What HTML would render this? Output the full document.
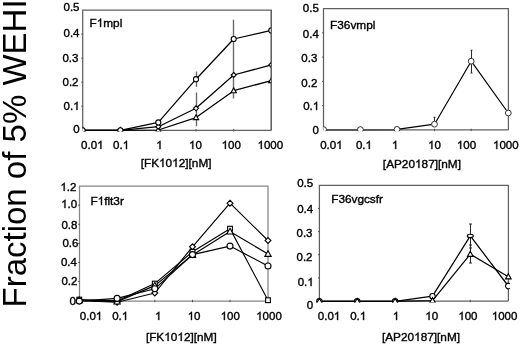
<!DOCTYPE html>
<html><head><meta charset="utf-8"><style>
html,body{margin:0;padding:0;background:#fff;}
svg{display:block;filter:grayscale(1);}
text{font-family:"Liberation Sans",sans-serif;font-kerning:none;font-variant-ligatures:none;fill:#000;stroke:#000;stroke-width:0.38px;}
.t{font-size:11.5px;}
.ti{font-size:11.8px;}
.n{font-size:11.8px;}
.big{font-size:33px;stroke:none;}
.fr{fill:none;stroke:#606060;stroke-width:1.25;}
.ax{fill:none;stroke:#606060;stroke-width:1.25;}
.tk{fill:none;stroke:#555;stroke-width:1;}
.ln{fill:none;stroke:#000;stroke-width:1.35;stroke-linejoin:round;}
.m{fill:#fff;stroke:#000;stroke-width:1.1;}
.ms .m{stroke:#333;stroke-width:1.0;}
.g1{fill:#000;stroke:#000;stroke-width:0.38px;vector-effect:non-scaling-stroke;}
.er{fill:none;stroke:#2a2a2a;stroke-width:1.05;}
</style></head><body>
<svg width="520" height="345" viewBox="0 0 520 345">
<defs><clipPath id="c0"><rect x="82.7" y="5.1" width="188.60000000000002" height="126.50000000000001"/></clipPath><clipPath id="c1"><rect x="323.5" y="3.5" width="188.89999999999998" height="127.7"/></clipPath><clipPath id="c2"><rect x="79.5" y="181.1" width="189.5" height="121.2"/></clipPath><clipPath id="c3"><rect x="313.4" y="180.3" width="205.0" height="122.29999999999998"/></clipPath></defs>
<text class="big" transform="translate(26.1 307.5) rotate(-90)">Fraction of 5% WEHI</text>
<path d="M82.7 130.3V10.1H271.3V130.3" class="fr"/>
<path d="M82.7 130.3H271.3" class="ax"/>
<path d="M81.3 34.1h1.9M81.3 58.2h1.9M81.3 82.2h1.9M81.3 106.2h1.9M120.4 129.10000000000002v2.4M158.3 129.10000000000002v2.4M196.0 129.10000000000002v2.4M233.7 129.10000000000002v2.4" class="tk"/>
<text x="63.51" y="11.00" class="t">0.5</text>
<text x="63.51" y="37.00" class="t">0.4</text>
<text x="62.41" y="62.00" class="t">0.3</text>
<text x="62.51" y="86.00" class="t">0.2</text>
<text x="63.61" y="110.00" class="t">0.</text><path d="M763 0H583V1147Q518 1085 412.5 1023T223 930V1104Q374 1175 487 1276T647 1472H763Z" transform="translate(73.20 110.00) scale(0.005615 -0.005615)" class="g1"/>
<text x="73.20" y="133.00" class="t">0</text>
<text x="81.11" y="149.00" class="t">0.0</text><path d="M763 0H583V1147Q518 1085 412.5 1023T223 930V1104Q374 1175 487 1276T647 1472H763Z" transform="translate(97.10 149.00) scale(0.005615 -0.005615)" class="g1"/>
<text x="113.11" y="149.00" class="t">0.</text><path d="M763 0H583V1147Q518 1085 412.5 1023T223 930V1104Q374 1175 487 1276T647 1472H763Z" transform="translate(122.70 149.00) scale(0.005615 -0.005615)" class="g1"/>
<path d="M763 0H583V1147Q518 1085 412.5 1023T223 930V1104Q374 1175 487 1276T647 1472H763Z" transform="translate(156.20 149.00) scale(0.005615 -0.005615)" class="g1"/>
<path d="M763 0H583V1147Q518 1085 412.5 1023T223 930V1104Q374 1175 487 1276T647 1472H763Z" transform="translate(189.00 149.00) scale(0.005615 -0.005615)" class="g1"/><text x="195.40" y="149.00" class="t">0</text>
<path d="M763 0H583V1147Q518 1085 412.5 1023T223 930V1104Q374 1175 487 1276T647 1472H763Z" transform="translate(221.61 149.00) scale(0.005615 -0.005615)" class="g1"/><text x="228.00" y="149.00" class="t">00</text>
<path d="M763 0H583V1147Q518 1085 412.5 1023T223 930V1104Q374 1175 487 1276T647 1472H763Z" transform="translate(257.51 149.00) scale(0.005615 -0.005615)" class="g1"/><text x="263.90" y="149.00" class="t">000</text>
<text x="140.68" y="167.00" class="ti">[FK</text><path d="M763 0H583V1147Q518 1085 412.5 1023T223 930V1104Q374 1175 487 1276T647 1472H763Z" transform="translate(159.04 167.00) scale(0.005762 -0.005762)" class="g1"/><text x="165.60" y="167.00" class="ti">0</text><path d="M763 0H583V1147Q518 1085 412.5 1023T223 930V1104Q374 1175 487 1276T647 1472H763Z" transform="translate(172.16 167.00) scale(0.005762 -0.005762)" class="g1"/><text x="178.73" y="167.00" class="ti">2][nM]</text>
<text x="89.50" y="27.00" class="n">F</text><path d="M763 0H583V1147Q518 1085 412.5 1023T223 930V1104Q374 1175 487 1276T647 1472H763Z" transform="translate(96.71 27.00) scale(0.005762 -0.005762)" class="g1"/><text x="103.27" y="27.00" class="n">mpl</text>
<g clip-path="url(#c0)"><path d="M196.5 71.4V87.0M196.5 92.6V124.0M196.5 109.0V126.3M233.5 19.7V58.3M233.5 58.3V83.0M233.5 83.0V98.5" class="er" style="stroke:#6a6a6a;stroke-width:1.4;"/><polyline points="82.60,130.30 120.40,130.30 158.30,130.00 196.00,117.60 233.70,90.70 271.30,80.60" class="ln" style="stroke-width:1.25"/><polyline points="82.60,130.30 120.40,130.30 158.30,126.70 196.00,108.30 233.70,75.00 271.30,64.90" class="ln" style="stroke-width:1.25"/><polyline points="82.60,130.30 120.40,130.30 158.30,122.40 196.00,79.20 233.70,39.00 271.30,30.40" class="ln" style="stroke-width:1.25"/><g><path d="M82.60 127.50L85.28 132.34L79.92 132.34Z" class="m"/><path d="M120.40 127.50L123.08 132.34L117.72 132.34Z" class="m"/><path d="M158.30 127.19L160.98 132.04L155.62 132.04Z" class="m"/><path d="M196.00 114.79L198.68 119.64L193.32 119.64Z" class="m"/><path d="M233.70 87.89L236.38 92.74L231.02 92.74Z" class="m"/><path d="M271.30 77.79L273.98 82.64L268.62 82.64Z" class="m"/><path d="M82.60 127.80L85.10 130.30L82.60 132.80L80.10 130.30Z" class="m"/><path d="M120.40 127.80L122.90 130.30L120.40 132.80L117.90 130.30Z" class="m"/><path d="M158.30 124.20L160.80 126.70L158.30 129.20L155.80 126.70Z" class="m"/><path d="M196.00 105.80L198.50 108.30L196.00 110.80L193.50 108.30Z" class="m"/><path d="M233.70 72.50L236.20 75.00L233.70 77.50L231.20 75.00Z" class="m"/><path d="M271.30 62.40L273.80 64.90L271.30 67.40L268.80 64.90Z" class="m"/><circle cx="82.60" cy="130.30" r="2.55" class="m"/><circle cx="120.40" cy="130.30" r="2.55" class="m"/><circle cx="158.30" cy="122.40" r="2.55" class="m"/><circle cx="196.00" cy="79.20" r="2.55" class="m"/><circle cx="233.70" cy="39.00" r="2.55" class="m"/><circle cx="271.30" cy="30.40" r="2.55" class="m"/></g></g>
<path d="M271.3 10.1V130.3" class="fr"/>
<path d="M323.5 129.9V8.5H508.4V129.9" class="fr"/>
<path d="M323.5 129.9H508.4" class="ax"/>
<path d="M322.1 32.8h1.9M322.1 57.1h1.9M322.1 81.4h1.9M322.1 105.6h1.9M360.4 128.70000000000002v2.4M397.0 128.70000000000002v2.4M434.5 128.70000000000002v2.4M471.2 128.70000000000002v2.4" class="tk"/>
<text x="302.81" y="12.00" class="t">0.5</text>
<text x="302.81" y="38.00" class="t">0.4</text>
<text x="301.31" y="62.00" class="t">0.3</text>
<text x="301.31" y="87.00" class="t">0.2</text>
<text x="303.21" y="110.00" class="t">0.</text><path d="M763 0H583V1147Q518 1085 412.5 1023T223 930V1104Q374 1175 487 1276T647 1472H763Z" transform="translate(312.80 110.00) scale(0.005615 -0.005615)" class="g1"/>
<text x="312.40" y="134.00" class="t">0</text>
<text x="320.21" y="149.00" class="t">0.0</text><path d="M763 0H583V1147Q518 1085 412.5 1023T223 930V1104Q374 1175 487 1276T647 1472H763Z" transform="translate(336.20 149.00) scale(0.005615 -0.005615)" class="g1"/>
<text x="355.91" y="149.00" class="t">0.</text><path d="M763 0H583V1147Q518 1085 412.5 1023T223 930V1104Q374 1175 487 1276T647 1472H763Z" transform="translate(365.50 149.00) scale(0.005615 -0.005615)" class="g1"/>
<path d="M763 0H583V1147Q518 1085 412.5 1023T223 930V1104Q374 1175 487 1276T647 1472H763Z" transform="translate(391.90 149.00) scale(0.005615 -0.005615)" class="g1"/>
<path d="M763 0H583V1147Q518 1085 412.5 1023T223 930V1104Q374 1175 487 1276T647 1472H763Z" transform="translate(428.10 149.00) scale(0.005615 -0.005615)" class="g1"/><text x="434.50" y="149.00" class="t">0</text>
<path d="M763 0H583V1147Q518 1085 412.5 1023T223 930V1104Q374 1175 487 1276T647 1472H763Z" transform="translate(456.91 149.00) scale(0.005615 -0.005615)" class="g1"/><text x="463.30" y="149.00" class="t">00</text>
<path d="M763 0H583V1147Q518 1085 412.5 1023T223 930V1104Q374 1175 487 1276T647 1472H763Z" transform="translate(493.01 149.00) scale(0.005615 -0.005615)" class="g1"/><text x="499.40" y="149.00" class="t">000</text>
<text x="382.87" y="168.00" class="ti">[AP20</text><path d="M763 0H583V1147Q518 1085 412.5 1023T223 930V1104Q374 1175 487 1276T647 1472H763Z" transform="translate(415.01 168.00) scale(0.005762 -0.005762)" class="g1"/><text x="421.58" y="168.00" class="ti">87][nM]</text>
<text x="330.10" y="29.00" class="n">F36vmpl</text>
<g clip-path="url(#c1)"><path d="M434.5 117.3V124.0M433.5 117.3h2M433.5 124.0h2M471.5 50.2V73.0M470.5 50.2h2M470.5 73.0h2" class="er"/><polyline points="323.60,129.60 360.40,129.60 397.00,129.40 434.50,124.20 471.20,61.20 508.30,113.00" class="ln" style="stroke-width:1.2"/><path d="M323.5 129.9H397.0" class="ax" style="stroke:#555;stroke-width:1.6"/><g class="ms"><circle cx="323.60" cy="129.60" r="2.9" class="m"/><circle cx="360.40" cy="129.60" r="2.9" class="m"/><circle cx="397.00" cy="129.40" r="2.9" class="m"/><circle cx="434.50" cy="124.20" r="2.9" class="m"/><circle cx="471.20" cy="61.20" r="2.9" class="m"/><circle cx="508.30" cy="113.00" r="2.9" class="m"/></g></g>
<path d="M79.5 301.0V186.1H268.0V301.0" class="fr" style="stroke:#858585"/>
<path d="M79.5 301.0H268.0" class="ax" style="stroke:#858585"/>
<path d="M78.1 205.2h1.9M78.1 224.3h1.9M78.1 243.4h1.9M78.1 262.5h1.9M78.1 281.6h1.9M117.1 299.8v2.4M154.8 299.8v2.4M192.5 299.8v2.4M230.0 299.8v2.4" class="tk"/>
<path d="M763 0H583V1147Q518 1085 412.5 1023T223 930V1104Q374 1175 487 1276T647 1472H763Z" transform="translate(60.41 191.00) scale(0.005615 -0.005615)" class="g1"/><text x="66.81" y="191.00" class="t">.2</text>
<path d="M763 0H583V1147Q518 1085 412.5 1023T223 930V1104Q374 1175 487 1276T647 1472H763Z" transform="translate(61.16 208.00) scale(0.005615 -0.005615)" class="g1"/><text x="67.56" y="208.00" class="t">.0</text>
<text x="61.41" y="229.00" class="t">0.8</text>
<text x="62.41" y="247.00" class="t">0.6</text>
<text x="60.91" y="266.00" class="t">0.4</text>
<text x="61.41" y="285.00" class="t">0.2</text>
<text x="69.60" y="305.00" class="t">0</text>
<text x="79.81" y="320.00" class="t">0.0</text><path d="M763 0H583V1147Q518 1085 412.5 1023T223 930V1104Q374 1175 487 1276T647 1472H763Z" transform="translate(95.80 320.00) scale(0.005615 -0.005615)" class="g1"/>
<text x="112.21" y="320.00" class="t">0.</text><path d="M763 0H583V1147Q518 1085 412.5 1023T223 930V1104Q374 1175 487 1276T647 1472H763Z" transform="translate(121.80 320.00) scale(0.005615 -0.005615)" class="g1"/>
<path d="M763 0H583V1147Q518 1085 412.5 1023T223 930V1104Q374 1175 487 1276T647 1472H763Z" transform="translate(155.00 320.00) scale(0.005615 -0.005615)" class="g1"/>
<path d="M763 0H583V1147Q518 1085 412.5 1023T223 930V1104Q374 1175 487 1276T647 1472H763Z" transform="translate(187.70 320.00) scale(0.005615 -0.005615)" class="g1"/><text x="194.10" y="320.00" class="t">0</text>
<path d="M763 0H583V1147Q518 1085 412.5 1023T223 930V1104Q374 1175 487 1276T647 1472H763Z" transform="translate(220.61 320.00) scale(0.005615 -0.005615)" class="g1"/><text x="227.00" y="320.00" class="t">00</text>
<path d="M763 0H583V1147Q518 1085 412.5 1023T223 930V1104Q374 1175 487 1276T647 1472H763Z" transform="translate(256.21 320.00) scale(0.005615 -0.005615)" class="g1"/><text x="262.60" y="320.00" class="t">000</text>
<text x="145.88" y="341.00" class="ti">[FK</text><path d="M763 0H583V1147Q518 1085 412.5 1023T223 930V1104Q374 1175 487 1276T647 1472H763Z" transform="translate(164.24 341.00) scale(0.005762 -0.005762)" class="g1"/><text x="170.80" y="341.00" class="ti">0</text><path d="M763 0H583V1147Q518 1085 412.5 1023T223 930V1104Q374 1175 487 1276T647 1472H763Z" transform="translate(177.36 341.00) scale(0.005762 -0.005762)" class="g1"/><text x="183.93" y="341.00" class="ti">2][nM]</text>
<text x="90.40" y="205.00" class="n">F</text><path d="M763 0H583V1147Q518 1085 412.5 1023T223 930V1104Q374 1175 487 1276T647 1472H763Z" transform="translate(97.61 205.00) scale(0.005762 -0.005762)" class="g1"/><text x="104.17" y="205.00" class="n">flt3r</text>
<g><polyline points="79.30,300.80 117.10,302.20 154.80,293.00 192.50,246.80 230.00,203.20 268.00,240.50" class="ln" style="stroke-width:1.15"/><polyline points="79.30,299.60 117.10,300.90 154.80,283.60 192.50,251.80 230.00,228.70 268.00,300.20" class="ln" style="stroke-width:1.15"/><polyline points="79.30,300.30 117.10,301.60 154.80,285.60 192.50,255.00 230.00,231.60 268.00,254.00" class="ln" style="stroke-width:1.15"/><polyline points="79.30,301.10 117.10,298.40 154.80,288.70 192.50,254.60 230.00,246.10 268.00,266.00" class="ln" style="stroke-width:1.15"/><g><path d="M79.30 297.86L82.24 300.80L79.30 303.74L76.36 300.80Z" class="m"/><path d="M117.10 299.26L120.04 302.20L117.10 305.14L114.16 302.20Z" class="m"/><path d="M154.80 290.06L157.74 293.00L154.80 295.94L151.86 293.00Z" class="m"/><path d="M192.50 243.86L195.44 246.80L192.50 249.74L189.56 246.80Z" class="m"/><path d="M230.00 200.26L232.94 203.20L230.00 206.14L227.06 203.20Z" class="m"/><path d="M268.00 237.56L270.94 240.50L268.00 243.44L265.06 240.50Z" class="m"/><rect x="76.90" y="297.20" width="4.80" height="4.80" class="m"/><rect x="114.70" y="298.50" width="4.80" height="4.80" class="m"/><rect x="152.40" y="281.20" width="4.80" height="4.80" class="m"/><rect x="190.10" y="249.40" width="4.80" height="4.80" class="m"/><rect x="227.60" y="226.30" width="4.80" height="4.80" class="m"/><rect x="265.60" y="297.80" width="4.80" height="4.80" class="m"/><path d="M79.30 297.00L82.45 302.70L76.15 302.70Z" class="m"/><path d="M117.10 298.30L120.25 304.00L113.95 304.00Z" class="m"/><path d="M154.80 282.30L157.95 288.00L151.65 288.00Z" class="m"/><path d="M192.50 251.70L195.65 257.40L189.35 257.40Z" class="m"/><path d="M230.00 228.30L233.15 234.00L226.85 234.00Z" class="m"/><path d="M268.00 250.70L271.15 256.40L264.85 256.40Z" class="m"/><circle cx="79.30" cy="301.10" r="3.0" class="m"/><circle cx="117.10" cy="298.40" r="3.0" class="m"/><circle cx="154.80" cy="288.70" r="3.0" class="m"/><circle cx="192.50" cy="254.60" r="3.0" class="m"/><circle cx="230.00" cy="246.10" r="3.0" class="m"/><circle cx="268.00" cy="266.00" r="3.0" class="m"/></g></g>
<path d="M319.4 301.0V185.3H508.4V301.0" class="fr"/>
<path d="M319.4 301.0H508.4" class="ax"/>
<path d="M318.0 208.4h1.9M318.0 231.6h1.9M318.0 254.7h1.9M318.0 277.9h1.9M357.2 299.8v2.4M395.1 299.8v2.4M432.5 299.8v2.4M470.3 299.8v2.4" class="tk"/>
<text x="297.21" y="187.00" class="t">0.5</text>
<text x="297.21" y="213.00" class="t">0.4</text>
<text x="296.51" y="237.00" class="t">0.3</text>
<text x="296.51" y="261.00" class="t">0.2</text>
<text x="297.71" y="286.00" class="t">0.</text><path d="M763 0H583V1147Q518 1085 412.5 1023T223 930V1104Q374 1175 487 1276T647 1472H763Z" transform="translate(307.30 286.00) scale(0.005615 -0.005615)" class="g1"/>
<text x="306.80" y="309.00" class="t">0</text>
<text x="317.81" y="320.00" class="t">0.0</text><path d="M763 0H583V1147Q518 1085 412.5 1023T223 930V1104Q374 1175 487 1276T647 1472H763Z" transform="translate(333.80 320.00) scale(0.005615 -0.005615)" class="g1"/>
<text x="350.21" y="320.00" class="t">0.</text><path d="M763 0H583V1147Q518 1085 412.5 1023T223 930V1104Q374 1175 487 1276T647 1472H763Z" transform="translate(359.80 320.00) scale(0.005615 -0.005615)" class="g1"/>
<path d="M763 0H583V1147Q518 1085 412.5 1023T223 930V1104Q374 1175 487 1276T647 1472H763Z" transform="translate(392.80 320.00) scale(0.005615 -0.005615)" class="g1"/>
<path d="M763 0H583V1147Q518 1085 412.5 1023T223 930V1104Q374 1175 487 1276T647 1472H763Z" transform="translate(425.30 320.00) scale(0.005615 -0.005615)" class="g1"/><text x="431.70" y="320.00" class="t">0</text>
<path d="M763 0H583V1147Q518 1085 412.5 1023T223 930V1104Q374 1175 487 1276T647 1472H763Z" transform="translate(458.31 320.00) scale(0.005615 -0.005615)" class="g1"/><text x="464.70" y="320.00" class="t">00</text>
<path d="M763 0H583V1147Q518 1085 412.5 1023T223 930V1104Q374 1175 487 1276T647 1472H763Z" transform="translate(491.81 320.00) scale(0.005615 -0.005615)" class="g1"/><text x="498.20" y="320.00" class="t">000</text>
<text x="381.97" y="341.00" class="ti">[AP20</text><path d="M763 0H583V1147Q518 1085 412.5 1023T223 930V1104Q374 1175 487 1276T647 1472H763Z" transform="translate(414.11 341.00) scale(0.005762 -0.005762)" class="g1"/><text x="420.68" y="341.00" class="ti">87][nM]</text>
<text x="331.20" y="203.00" class="n">F36vgcsfr</text>
<g clip-path="url(#c3)"><path d="M470.5 224.0V248.0M469.0 224.0h3M469.0 248.0h3M470.5 245.0V263.0M469.0 245.0h3M469.0 263.0h3" class="er"/><polyline points="319.40,301.30 357.20,301.30 395.10,301.30 432.50,296.20 470.30,235.90 508.30,286.00" class="ln" style="stroke-width:1.25"/><polyline points="319.40,301.30 357.20,301.30 395.10,301.30 432.50,300.60 470.30,254.20 508.30,276.70" class="ln" style="stroke-width:1.25"/><g><circle cx="319.40" cy="301.30" r="2.7" class="m"/><circle cx="357.20" cy="301.30" r="2.7" class="m"/><circle cx="395.10" cy="301.30" r="2.7" class="m"/><circle cx="432.50" cy="296.20" r="2.7" class="m"/><ellipse cx="470.30" cy="235.90" rx="2.97" ry="1.62" class="m"/><path d="M509.92 283.84A2.7 2.7 0 1 0 509.92 288.16" class="m"/><path d="M319.40 298.33L322.23 303.46L316.56 303.46Z" class="m"/><path d="M357.20 298.33L360.03 303.46L354.37 303.46Z" class="m"/><path d="M395.10 298.33L397.94 303.46L392.27 303.46Z" class="m"/><path d="M432.50 297.63L435.33 302.76L429.67 302.76Z" class="m"/><path d="M470.30 251.23L473.13 256.36L467.47 256.36Z" class="m"/><path d="M508.30 273.73L511.13 278.86L505.47 278.86Z" class="m"/></g></g>
</svg>
</body></html>
